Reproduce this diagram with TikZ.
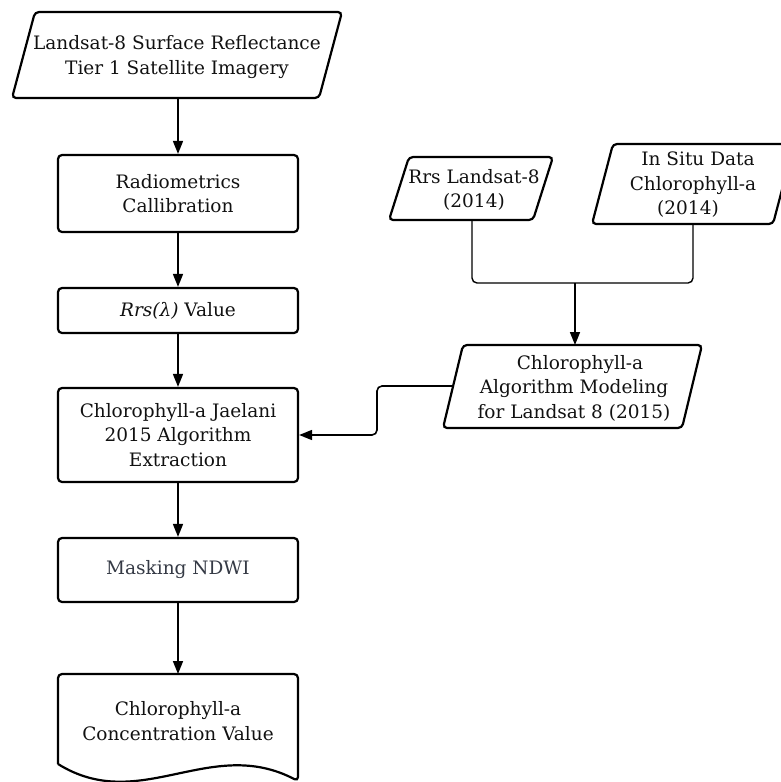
\documentclass[tikz,border=0pt]{standalone}
\usepackage{fontspec}
\setmainfont{DejaVu Serif}
\usetikzlibrary{arrows.meta}
\definecolor{txt}{HTML}{111111}
\definecolor{txtgray}{HTML}{353A45}
\begin{document}
\begin{tikzpicture}[x=1pt,y=-1pt,
  shapeline/.style={draw=black, line width=2.2pt, rounded corners=4pt},
  box/.style={shapeline, align=center, inner sep=0pt, minimum width=240pt, text=txt,
    font=\fontsize{18.5}{24.5}\selectfont},
  label/.style={align=center, inner sep=0pt, text=txt, font=\fontsize{18.5}{24.5}\selectfont},
  conn/.style={draw=black, line width=1.6pt, -{Triangle[length=13pt,width=10pt]}},
  plain/.style={draw=black, line width=1.4pt}]
\useasboundingbox (0,0) rectangle (780,782);

% left column
\draw[shapeline] (35,12) -- (342,12) -- (319,98) -- (12,98) -- cycle;
\node[label] (in1) at (177,57) {Landsat-8 Surface Reflectance\\Tier 1 Satellite Imagery};
\coordinate (in1b) at (178,98);

\node[box, minimum height=77pt] (rad) at (178,193.5) {Radiometrics\\Callibration};
\node[box, minimum height=45pt] (rrs) at (178,310.5) {\textit{Rrs(λ)} Value};
\node[box, minimum height=94pt] (jael) at (178,435) {Chlorophyll-a Jaelani\\2015 Algorithm\\Extraction};
\node[box, minimum height=64pt, text=txtgray] (mask) at (178,570) {Masking NDWI};

\draw[shapeline] (58,764) -- (58,674) -- (298,674) -- (298,781)
  .. controls (210,735) and (140,815) .. (58,764);
\node[label] (doc) at (178,721) {Chlorophyll-a\\Concentration Value};
\coordinate (doct) at (178,674);

% right inputs
\draw[shapeline] (409,157) -- (553,157) -- (533,220) -- (389,220) -- cycle;
\node[label] (p1) at (474,190) {Rrs Landsat-8\\(2014)};
\coordinate (p1b) at (472,220);

\draw[shapeline] (613,144) -- (794,144) -- (773,224) -- (592,224) -- cycle;
\node[label] (p2) at (693,185) {\hspace*{10pt}In Situ Data\\Chlorophyll-a\\(2014)\hspace*{10pt}};
\coordinate (p2b) at (693,224);

\draw[shapeline] (463,345) -- (702,345) -- (682,428) -- (443,428) -- cycle;
\node[label] (mod) at (574,388) {\hspace*{12pt}Chlorophyll-a\\Algorithm Modeling\\for Landsat 8 (2015)};
\coordinate (modt) at (575,345);
\coordinate (modl) at (453,386);
\coordinate (mj) at (575,283);
\coordinate (bend) at (377,386);

% connectors
\draw[conn] (in1b) -- (rad);
\draw[conn] (rad) -- (rrs);
\draw[conn] (rrs) -- (jael);
\draw[conn] (jael) -- (mask);
\draw[conn] (mask) -- (doct);
\draw[plain, rounded corners=5pt] (p1b) |- (mj) -| (p2b);
\draw[conn] (mj) -- (modt);
\draw[conn, rounded corners=5pt] (modl) -- (bend) |- (jael.east);
\end{tikzpicture}
\end{document}
